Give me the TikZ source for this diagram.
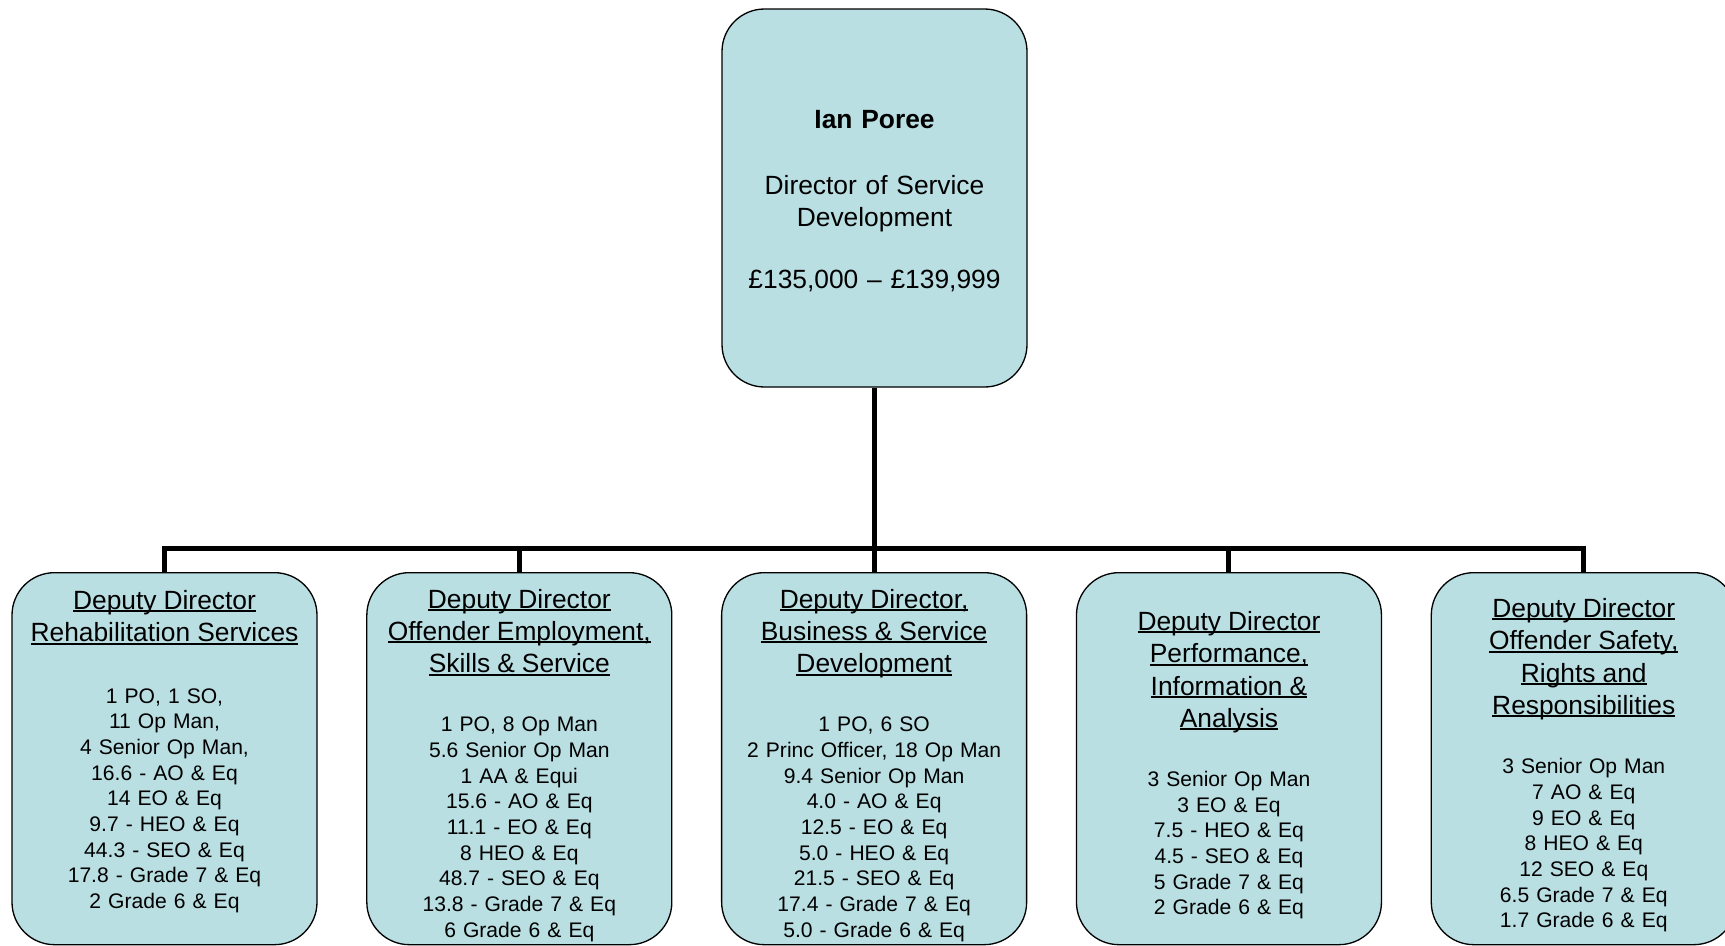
\documentclass[tikz,border=0pt]{standalone}
\usepackage{fontspec}
\setmainfont{Liberation Sans}
\usetikzlibrary{positioning}
\definecolor{postblue}{RGB}{185,223,227}
\def\uln#1{\leavevmode\setbox0\hbox{#1}\rlap{\rule[-0.106em]{\wd0}{0.073em}}\box0}
\def\hd#1{{\fontsize{15}{18}\selectfont\uln{#1}}}
\def\padtop{\rule{0pt}{18.4pt}}
\def\padend{\rule[-10.5pt]{0pt}{0pt}}
\tikzset{
	post/.style={draw=black, line width=0.75pt, fill=postblue, rounded corners=0.85cm, minimum width=6.1cm, text width=5.8cm, align=center, inner sep=0pt},
	head/.style={post, minimum height=7.56cm, font=\fontsize{15}{18.2}\selectfont},
	unit/.style={post, minimum height=7.44cm, anchor=north, font=\fontsize{12}{14.6}\selectfont},
	link/.style={line width=1mm}
}

\begin{document}
\begin{tikzpicture}
		%%%%% START %%%%%
		\useasboundingbox (0, 0) rectangle (34.5, -18.9);
		
		\node[head] (director) at (17.49, -3.96) {\rule{0pt}{14pt}\textbf{Ian Poree}\\[19.4pt]
			Director of Service\\ Development\\[17.4pt]
			£135,000 – £139,999};
		
		\node[unit] (rehab) at (3.29, -11.44) {\hd{Deputy Director}\\[3.8pt]\hd{Rehabilitation Services}\\[20.3pt]
			1 PO, 1 SO,\\ 11 Op Man,\\ 4 Senior Op Man,\\ 16.6 - AO \& Eq\\ 14 EO \& Eq\\
			9.7 - HEO \& Eq\\ 44.3 - SEO \& Eq\\ 17.8 - Grade 7 \& Eq\\ 2 Grade 6 \& Eq\padend};
		\node[unit, right=0.97cm of rehab] (employ) {\padtop\hd{Deputy Director}\\[3.8pt]\hd{Offender Employment,}\\[3.8pt]\hd{Skills \& Service}\\[19.1pt]
			1 PO, 8 Op Man\\ 5.6 Senior Op Man\\ 1 AA \& Equi\\ 15.6 - AO \& Eq\\ 11.1 - EO \& Eq\\
			8 HEO \& Eq\\ 48.7 - SEO \& Eq\\ 13.8 - Grade 7 \& Eq\\ 6 Grade 6 \& Eq};
		\node[unit, right=0.97cm of employ] (business) {\padtop\hd{Deputy Director,}\\[3.8pt]\hd{Business \& Service}\\[3.8pt]\hd{Development}\\[19.1pt]
			1 PO, 6 SO\\ 2 Princ Officer, 18 Op Man\\ 9.4 Senior Op Man\\ 4.0 - AO \& Eq\\ 12.5 - EO \& Eq\\
			5.0 - HEO \& Eq\\ 21.5 - SEO \& Eq\\ 17.4 - Grade 7 \& Eq\\ 5.0 - Grade 6 \& Eq};
		\node[unit, right=0.97cm of business] (perform) {\padtop\hd{Deputy Director}\\[3.8pt]\hd{Performance,}\\[3.8pt]\hd{Information \&}\\[3.8pt]\hd{Analysis}\\[19.1pt]
			3 Senior Op Man\\ 3 EO \& Eq\\ 7.5 - HEO \& Eq\\ 4.5 - SEO \& Eq\\ 5 Grade 7 \& Eq\\ 2 Grade 6 \& Eq};
		\node[unit, right=0.97cm of perform] (safety) {\padtop\hd{Deputy Director}\\[3.8pt]\hd{Offender Safety,}\\[3.8pt]\hd{Rights and}\\[3.8pt]\hd{Responsibilities}\\[19.1pt]
			3 Senior Op Man\\ 7 AO \& Eq\\ 9 EO \& Eq\\ 8 HEO \& Eq\\ 12 SEO \& Eq\\ 6.5 Grade 7 \& Eq\\ 1.7 Grade 6 \& Eq};
		
		\coordinate (bus) at (17.49, -10.96);
		\draw[link] (director.south) -- (bus);
		\draw[link] (rehab.north) |- (bus) -| (safety.north);
		\foreach \unit in {employ, business, perform}
			\draw[link] (\unit.north) -- (\unit.north |- bus);
		
		%%%%% END %%%%%
\end{tikzpicture}
\end{document}
